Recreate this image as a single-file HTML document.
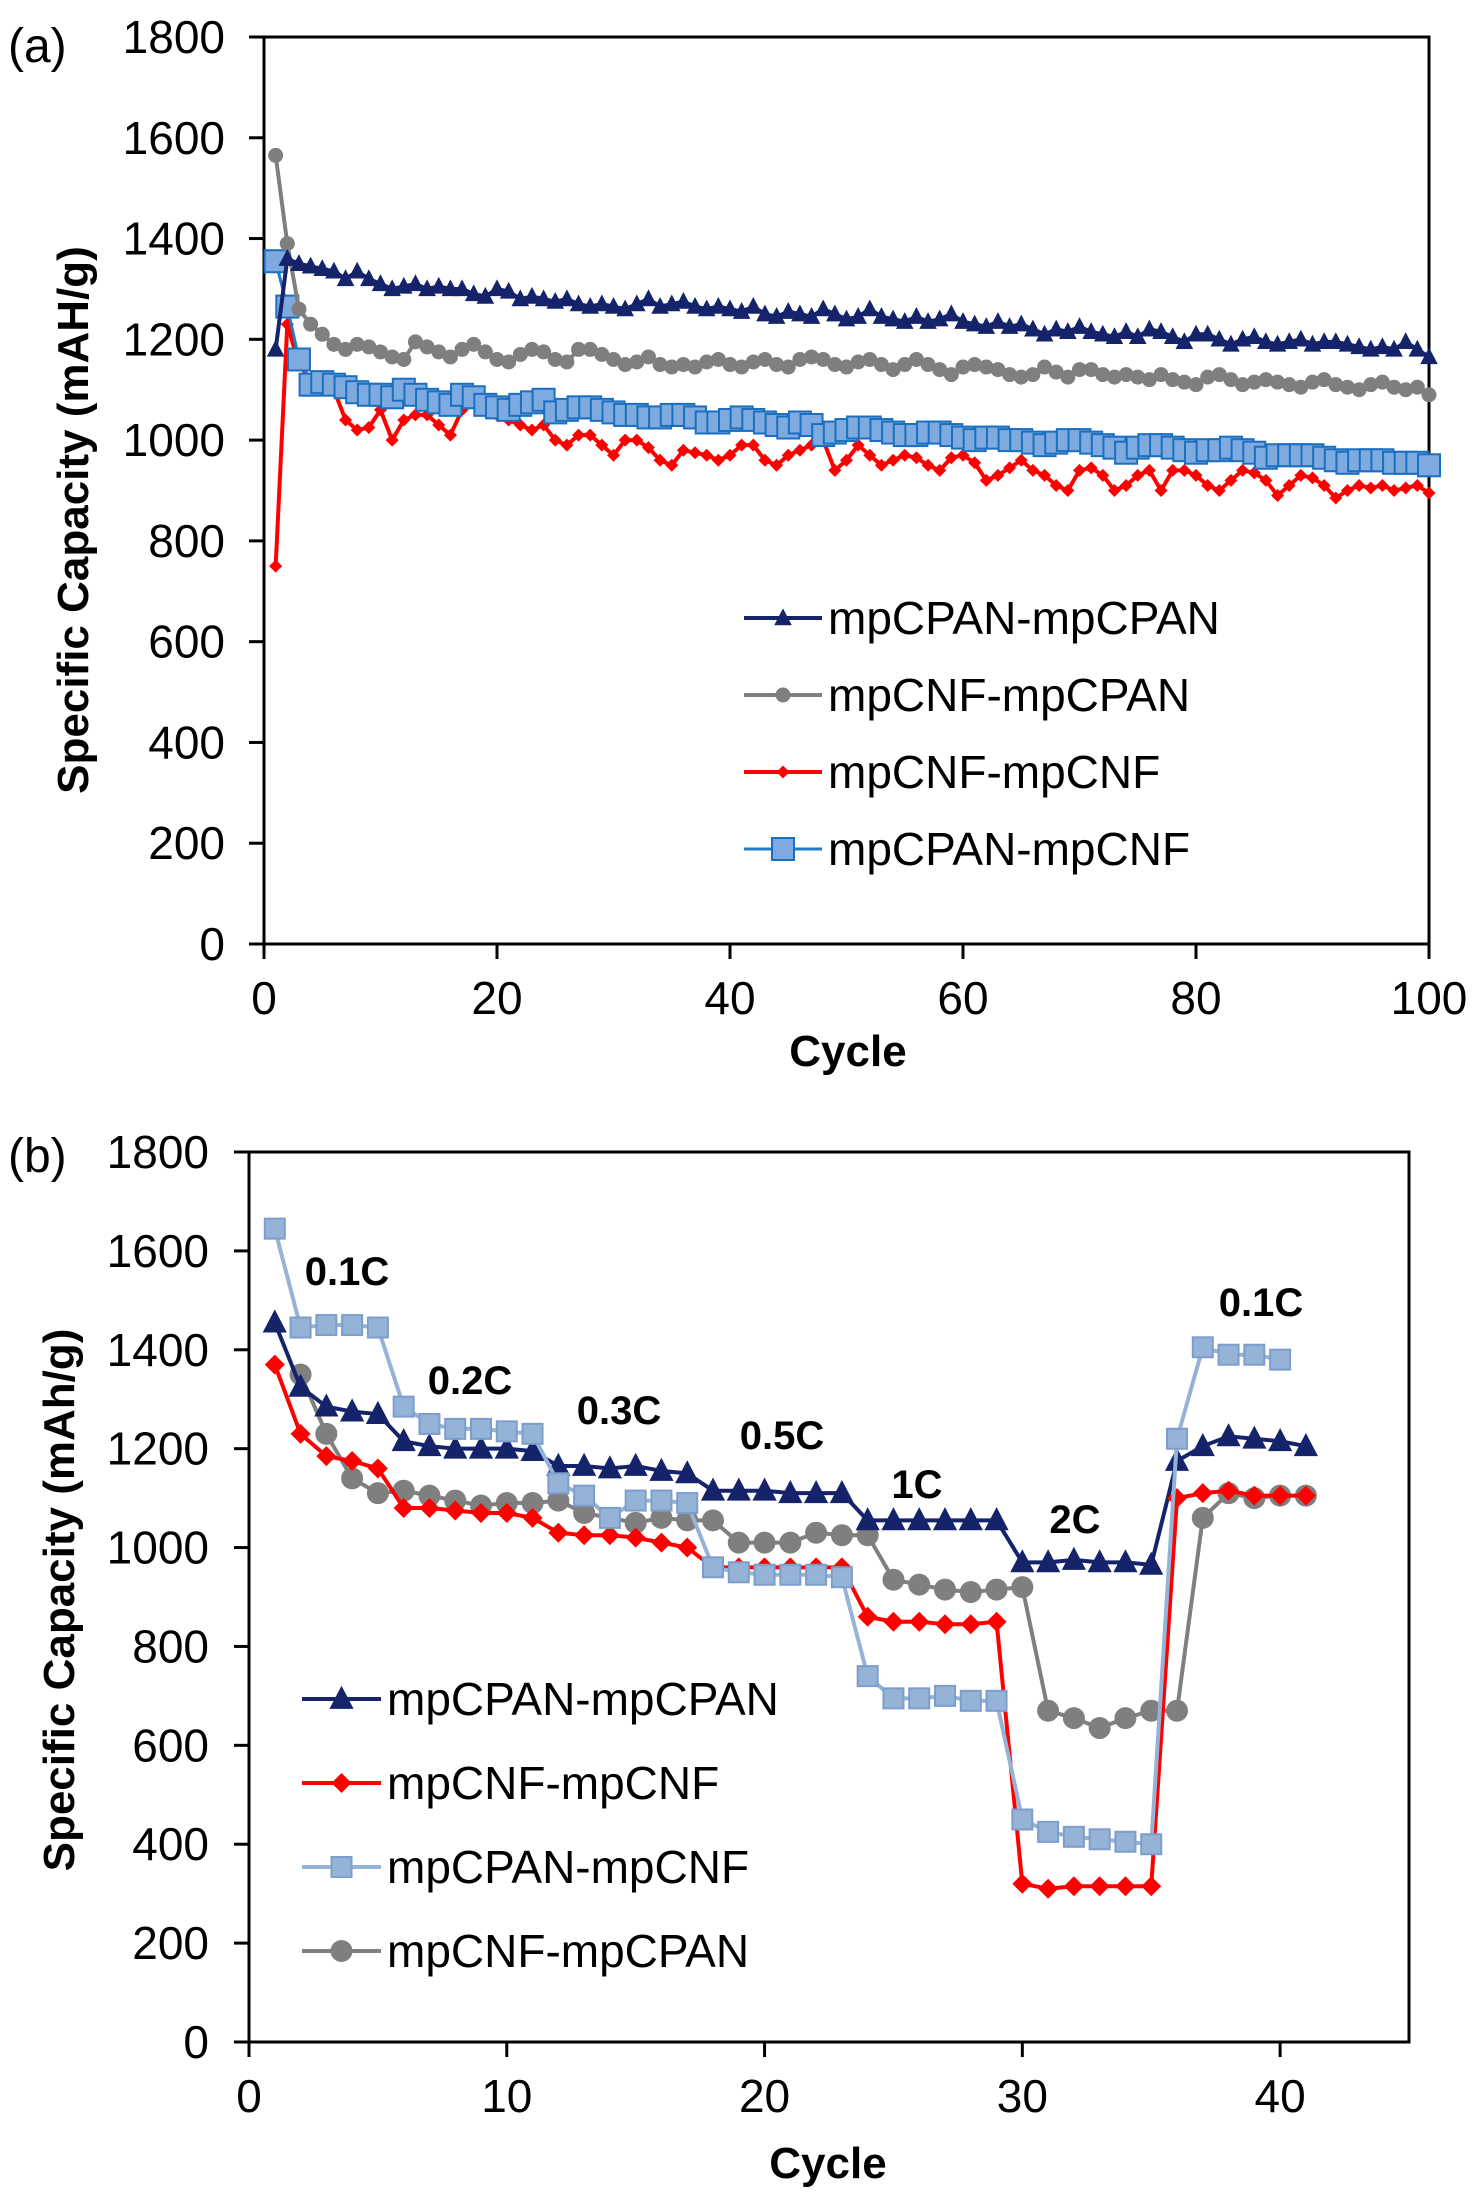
<!DOCTYPE html>
<html><head><meta charset="utf-8"><style>
body{margin:0;background:#fff}
svg{display:block;font-family:"Liberation Sans",Arial,sans-serif}
</style></head><body>
<svg id="chart" width="1481" height="2201" viewBox="0 0 1481 2201" xmlns="http://www.w3.org/2000/svg"></svg>
<script>
// ---- Panel (a) data ----
const cyclesA = Array.from({length:100},(_,i)=>i+1);
const aCpanCpan = [1180,1360,1350,1345,1340,1335,1320,1335,1320,1310,1300,1305,1310,1300,1305,1300,1300,1290,1285,1300,1295,1280,1285,1280,1275,1280,1270,1265,1270,1265,1260,1270,1280,1265,1270,1275,1265,1260,1265,1260,1255,1265,1250,1245,1255,1250,1245,1260,1250,1240,1245,1260,1245,1240,1235,1245,1235,1240,1250,1235,1230,1225,1235,1225,1230,1220,1210,1220,1215,1225,1215,1210,1205,1215,1205,1220,1215,1205,1195,1210,1210,1200,1190,1200,1205,1195,1190,1195,1200,1190,1195,1195,1190,1185,1180,1185,1180,1195,1180,1165];
const aCnfCpan = [1565,1390,1260,1230,1210,1190,1180,1190,1185,1175,1165,1160,1195,1185,1175,1165,1180,1190,1175,1160,1155,1170,1180,1175,1160,1155,1180,1180,1170,1160,1150,1155,1165,1150,1145,1150,1145,1155,1160,1150,1145,1155,1160,1150,1145,1160,1165,1160,1150,1145,1155,1160,1150,1140,1150,1160,1150,1140,1130,1145,1150,1145,1140,1130,1125,1130,1145,1135,1125,1140,1140,1130,1125,1130,1125,1120,1130,1120,1115,1110,1125,1130,1120,1110,1115,1120,1115,1110,1105,1115,1120,1110,1105,1100,1110,1115,1105,1100,1105,1090];
const aCnfCnf = [750,1230,1150,1120,1110,1100,1040,1020,1025,1060,1000,1040,1050,1050,1030,1010,1060,1080,1070,1050,1040,1030,1020,1030,1000,990,1010,1010,990,970,1000,1000,985,960,950,980,975,970,960,970,990,990,960,950,970,980,990,1000,940,960,990,970,950,960,970,965,950,940,965,970,955,920,930,945,960,940,930,910,900,940,945,930,900,910,930,940,900,940,940,930,910,900,920,940,935,920,890,910,930,925,910,885,900,910,905,910,900,905,910,895];
const aCpanCnf = [1355,1265,1160,1110,1115,1110,1105,1095,1090,1090,1085,1100,1090,1080,1075,1070,1090,1085,1070,1065,1060,1070,1075,1080,1055,1060,1065,1065,1060,1055,1050,1050,1045,1045,1050,1050,1045,1035,1035,1040,1045,1040,1035,1030,1025,1035,1030,1010,1015,1020,1025,1025,1020,1015,1010,1010,1015,1015,1010,1005,1000,1005,1005,1000,1000,995,990,995,1000,1000,995,990,985,975,985,990,990,985,980,975,980,980,985,980,975,965,970,970,970,970,965,960,955,960,960,960,955,955,955,950];
const xTicksA = [0,20,40,60,80,100];
const yTicks = [0,200,400,600,800,1000,1200,1400,1600,1800];

// ---- Panel (b) data ----
const cyclesB = Array.from({length:41},(_,i)=>i+1);
const bCpanCpan = [1455,1325,1285,1275,1270,1215,1205,1200,1200,1200,1195,1165,1165,1160,1165,1155,1150,1115,1115,1115,1110,1110,1110,1055,1055,1055,1055,1055,1055,970,970,975,970,970,965,1175,1205,1225,1220,1215,1205];
const bCnfCnf = [1370,1230,1185,1175,1160,1080,1080,1075,1070,1070,1060,1030,1025,1025,1020,1010,1000,960,960,960,960,960,960,860,850,850,845,845,850,320,310,315,315,315,315,1100,1110,1115,1105,1105,1105];
const bCpanCnf = [1645,1445,1450,1450,1445,1285,1250,1240,1240,1235,1230,1130,1105,1060,1095,1095,1090,960,950,945,945,945,940,740,695,695,700,690,690,450,425,415,410,405,400,1220,1405,1390,1390,1380];
const cyclesBGray = Array.from({length:40},(_,i)=>i+2);
const bCnfCpan = [1350,1230,1140,1110,1115,1105,1095,1085,1090,1090,1095,1070,1060,1050,1060,1055,1055,1010,1010,1010,1030,1025,1025,935,925,915,910,915,920,670,655,635,655,670,670,1060,1110,1100,1105,1105];
const xTicksB = [0,10,20,30,40];
const rateLabels = ["0.1C","0.2C","0.3C","0.5C","1C","2C","0.1C"];
const rateX = [347,470,619,782,917,1075,1261];
const rateY = [1271,1380,1410,1435,1484,1519,1302];

const NS="http://www.w3.org/2000/svg";
const svg=document.getElementById('chart');
function mk(tag,attrs,parent,text){const e=document.createElementNS(NS,tag);for(const k in attrs)e.setAttribute(k,attrs[k]);if(text!==undefined)e.textContent=text;(parent||svg).appendChild(e);return e;}

function marker(g,type,x,y,s,fill,stroke){
  let e;
  if(type==='tri') e=mk('polygon',{points:`${x},${y-s*0.6} ${x-s*0.55},${y+s*0.45} ${x+s*0.55},${y+s*0.45}`,fill:fill},g);
  else if(type==='circ') e=mk('circle',{cx:x,cy:y,r:s/2,fill:fill},g);
  else if(type==='dia') e=mk('polygon',{points:`${x},${y-s/2} ${x+s/2},${y} ${x},${y+s/2} ${x-s/2},${y}`,fill:fill},g);
  else e=mk('rect',{x:x-s/2,y:y-s/2,width:s,height:s,fill:fill,stroke:stroke,'stroke-width':2},g);
  return e;
}

function panel(o){
  const sx=v=>o.x0+(v-o.xmin)/(o.xmax-o.xmin)*(o.x1-o.x0);
  const sy=v=>o.y0-(v/1800)*(o.y0-o.y1);
  const g=mk('g',{});
  
  
  const frame=mk('rect',{x:o.x0,y:o.y1,width:o.x1-o.x0,height:o.y0-o.y1,fill:'none',stroke:'#000','stroke-width':3},g);
  
  
  yTicks.forEach(v=>{
    const t=mk('line',{x1:o.x0-15,x2:o.x0,y1:sy(v),y2:sy(v),stroke:'#000','stroke-width':3},g);
    
    
    const l=mk('text',{x:o.ylabR,y:sy(v)+16,'text-anchor':'end','font-size':46},g,String(v));
    
    
  });
  o.xTicks.forEach(v=>{
    const t=mk('line',{x1:sx(v),x2:sx(v),y1:o.y0,y2:o.y0+15,stroke:'#000','stroke-width':3},g);
    
    
    const l=mk('text',{x:sx(v),y:o.xlabY,'text-anchor':'middle','font-size':46},g,String(v));
    
    
  });
  const yt=mk('text',{x:0,y:0,'text-anchor':'middle','font-size':44,'font-weight':'bold',transform:`translate(${o.ytX},${o.ytY}) rotate(-90)`},g,'Specific Capacity ('+o.unit+')');
  
  
  const xt=mk('text',{x:o.xtX,y:o.xtY,'text-anchor':'middle','font-size':44,'font-weight':'bold'},g,'Cycle');
  
  
  const pl=mk('text',{x:8,y:o.plY,'font-size':48},g,o.label);
  
  

  o.series.forEach((s)=>{
    const sg=mk('g',{},g);
    
    
    const pts=s.y.map((v,i)=>sx(s.x[i])+','+sy(v)).join(' ');
    const ln=mk('polyline',{points:pts,fill:'none',stroke:s.line,'stroke-width':s.lw,'stroke-linejoin':'round'},sg);
    
    
    s.y.forEach((v,i)=>{
      const m=marker(sg,s.type,sx(s.x[i]),sy(v),s.ms,s.fill,s.stroke);
      
      
    });
  });
  o.legend.forEach((s,i)=>{
    const lg=mk('g',{},g);
    
    
    const y=o.legY[i];
    mk('line',{x1:o.legX0,x2:o.legX1,y1:y,y2:y,stroke:s.line,'stroke-width':s.lw},lg);
    marker(lg,s.type,(o.legX0+o.legX1)/2,y,s.ms,s.fill,s.stroke);
    mk('text',{x:o.legX1+6,y:y+16,'font-size':46},lg,s.name);
  });
  return {sx,sy,g};
}

const A={cc:{key:'mpcpan-mpcpan',name:'mpCPAN-mpCPAN',x:cyclesA,y:aCpanCpan,line:'#14236a',fill:'#14236a',type:'tri',ms:16,lw:4},
  nc:{key:'mpcnf-mpcpan',name:'mpCNF-mpCPAN',x:cyclesA,y:aCnfCpan,line:'#7f7f7f',fill:'#7f7f7f',type:'circ',ms:15,lw:4},
  nn:{key:'mpcnf-mpcnf',name:'mpCNF-mpCNF',x:cyclesA,y:aCnfCnf,line:'#ff0000',fill:'#ff0000',type:'dia',ms:13,lw:4},
  cn:{key:'mpcpan-mpcnf',name:'mpCPAN-mpCNF',x:cyclesA,y:aCpanCnf,line:'#1f7ac8',fill:'#7eaadf',stroke:'#1a6fc0',type:'sq',ms:22,lw:3}};
panel({name:'panel-a-cycling',label:'(a)',plY:62,x0:264,x1:1429,y0:944,y1:37,xmin:0,xmax:100,xTicks:xTicksA,
  ylabR:225,xlabY:1014,ytX:88,ytY:520,xtX:848,xtY:1066,unit:'mAH/g',
  series:[A.nn,A.cn,A.nc,A.cc],legend:[A.cc,A.nc,A.nn,A.cn],legX0:744,legX1:822,legY:[618,695,772,849]});

const B={cc:{key:'mpcpan-mpcpan',name:'mpCPAN-mpCPAN',x:cyclesB,y:bCpanCpan,line:'#14236a',fill:'#14236a',type:'tri',ms:22,lw:4},
  nn:{key:'mpcnf-mpcnf',name:'mpCNF-mpCNF',x:cyclesB,y:bCnfCnf,line:'#ff0000',fill:'#ff0000',type:'dia',ms:20,lw:4},
  cn:{key:'mpcpan-mpcnf',name:'mpCPAN-mpCNF',x:cyclesB,y:bCpanCnf,line:'#95b3d7',fill:'#95b3d7',stroke:'#7d9dcc',type:'sq',ms:20,lw:4},
  nc:{key:'mpcnf-mpcpan',name:'mpCNF-mpCPAN',x:cyclesBGray,y:bCnfCpan,line:'#7f7f7f',fill:'#7f7f7f',type:'circ',ms:22,lw:4}};
const pb=panel({name:'panel-b-rate',label:'(b)',plY:1172,x0:249,x1:1409,y0:2042,y1:1152,xmin:0,xmax:45,xTicks:xTicksB,
  ylabR:209,xlabY:2112,ytX:74,ytY:1600,xtX:828,xtY:2178,unit:'mAh/g',
  series:[B.nc,B.cc,B.nn,B.cn],legend:[B.cc,B.nn,B.cn,B.nc],legX0:302,legX1:381,legY:[1699,1783,1867,1951]});
rateLabels.forEach((t,i)=>{
  const e=mk('text',{x:rateX[i],y:rateY[i]+14,'text-anchor':'middle','font-size':40,'font-weight':'bold'},pb.g,t);
  
  
});
</script>
</body></html>
